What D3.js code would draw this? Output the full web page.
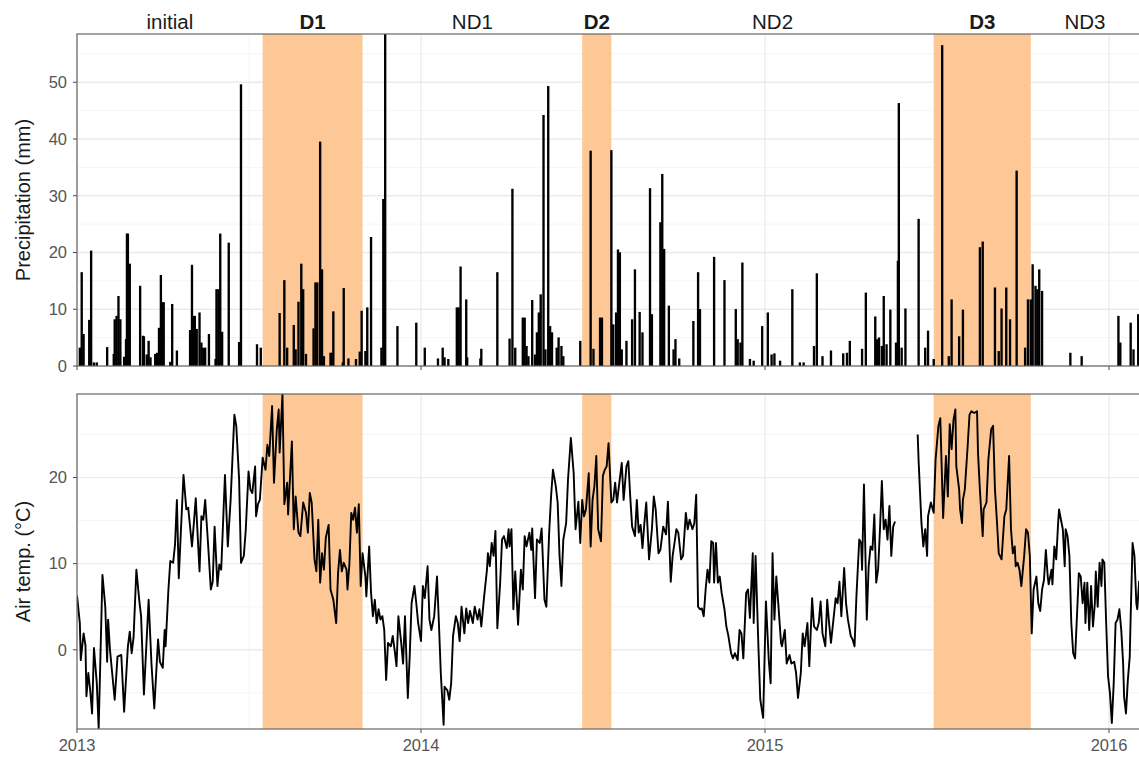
<!DOCTYPE html>
<html>
<head>
<meta charset="utf-8">
<script src="https://cdn.jsdelivr.net/npm/d3@7"></script>
<style>
  body { margin: 0; background: #fff; }
  text { font-family: "Liberation Sans", Arial, sans-serif; }
</style>
</head>
<body>
<svg id="chart" width="1139" height="760"></svg>
<script>
// daily precipitation, only the wet days: [days since 2013-01-01, mm]
var precip = [
  [3,3.1],[5,16.4],[7,5.5],[13,8],[15,20.2],[18,0.5],[21,0.5],[32,3.2],[39,2],[40,8.1],[42,8.7],[44,12.2],[46,8.1],
  [50,1.5],[52,4.6],[53,23.2],[54,23.2],[56,17.9],[67,14],[70,5.2],[71,5.1],[74,1.9],[76,4.3],[78,1.4],[83,2],
  [85,2.2],[87,6.6],[89,15.9],[91,11.1],[92,11.1],[99,0.6],[101,10.8],[106,2.6],[120,6.2],[122,17.7],[124,8.7],
  [125,8.7],[127,6.4],[130,9.3],[132,4],[134,3.1],[136,3.1],[140,5.5],[147,1.1],[148,13.4],[150,13.4],[152,23.2],
  [154,5.9],[161,21.6],[172,4.1],[174,49.5],[191,3.7],[195,3.1],[215,9.2],[220,15],[223,3.1],[230,7.1],[232,2.8],
  [235,11.2],[238,17.9],[240,13.4],[243,2],[251,6.5],[253,14.6],[255,14.6],[258,39.4],[260,16.9],[262,1.6],
  [269,2.2],[270,2.2],[272,9.5],[282,0.5],[283,13.6],[288,1.2],[296,1.1],[300,2.4],[302,9.6],[306,2.5],[308,10.2],
  [312,22.6],[323,3.1],[325,29.3],[327,60],[340,6.9],[360,7.5],[369,3.1],[383,1.2],[388,3.1],[390,1.4],[394,1.1],
  [403,10.2],[405,10.2],[407,17.4],[413,11.6],[414,1.4],[428,1.2],[429,2.9],[446,16.4],[459,4.7],[462,31.1],
  [465,3.1],[473,8.4],[475,8.4],[477,3.4],[479,1.6],[483,11.5],[486,1.9],[488,5.8],[490,9.3],[492,12.5],[495,44.1],
  [497,2.8],[500,49.2],[502,6.9],[504,5.8],[509,3.1],[511,4.9],[514,3.4],[516,1.6],[534,4.3],[545,37.8],[548,2.9],
  [555,8.4],[557,8.4],[567,37.9],[569,7.2],[572,9.3],[574,20.4],[576,19.9],[578,2.8],[583,4.3],[589,8.1],[592,16.9],
  [597,9.4],[600,5.8],[608,31.2],[610,9],[619,25.2],[621,33.7],[623,20.5],[628,10.5],[633,2.8],[635,4.6],[639,1.2],
  [654,7.8],[659,16.4],[661,9.9],[676,19.1],[687,15],[699,9.9],[701,4.6],[704,4],[706,18.1],[714,1.1],[718,0.8],
  [727,6.9],[733,9.3],[737,1.9],[740,2.1],[746,0.8],[759,13.4],[767,0.5],[771,0.5],[782,3.4],[785,16.2],[791,1.6],
  [800,2.6],[813,2.1],[817,2.2],[820,4.3],[833,2.9],[837,12.8],[847,8.6],[849,4.6],[851,4.9],[854,3.4],[856,12.2],
  [859,3.7],[863,9.8],[869,4],[871,18.4],[872,46.2],[875,3.1],[879,10],[893,25.8],[900,3.1],[903,6.1],[909,1.1],
  [918,56.4],[925,1.6],[928,11.6],[936,5.1],[940,9.8],[958,20.8],[961,21.8],[974,13.7],[978,2.5],[981,10],
  [986,13.7],[990,8.1],[997,34.3],[1006,3.1],[1009,11.6],[1012,11.6],[1014,17.8],[1017,14],[1019,13.4],[1021,16.9],
  [1024,13.1],[1054,2.2],[1066,1.6],[1105,8.7],[1107,4],[1118,7.5],[1121,2.8],[1126,9]
];

// air temperature: [days since 2013-01-01, degC], null = missing
var airTemp = [
  [0,6.3],[3,3.1],[4,-1.2],[7,1.9],[9,0.5],[10,-5.4],[12,-2.7],[14,-4.7],[16,-7.4],[18,0.2],[21,-3.9],[23,-9.1],
  [27,8.7],[30,5.0],[32,-1.4],[33,3.5],[35,0],[40,-5.8],[43,-0.8],[47,-0.6],[50,-7.2],[54,0.4],[56,2.1],[58,-0.4],
  [60,1.4],[63,9.3],[66,5.8],[68,3.9],[71,-5.2],[73,-0.8],[76,5.8],[79,-1.6],[82,-6.8],[86,1.2],[88,-1.4],[91,-2.1],
  [93,2.3],[94,0.4],[97,7.0],[99,10.3],[102,10.1],[104,12.2],[106,17.4],[108,8.3],[110,13.2],[113,20.3],[116,16.3],
  [118,16.5],[122,12.0],[124,14.7],[126,17.6],[130,9.1],[132,15.5],[134,15.1],[136,17.4],[139,12.4],[142,7.0],
  [144,7.9],[146,14.3],[149,7.4],[151,9.9],[153,9.3],[157,20.3],[160,12.0],[163,17.4],[167,27.3],[169,26.0],
  [172,19.8],[174,10.1],[177,10.9],[179,13.8],[182,20.7],[184,18.6],[186,18.2],[189,21.3],[190,15.5],[192,16.9],
  [194,17.4],[197,22.3],[200,20.9],[202,23.8],[204,22.5],[207,28.3],[209,19.4],[212,25.6],[214,27.9],[215,22.9],
  [218,29.7],[220,16.9],[223,19.4],[224,15.7],[228,24.2],[230,14.0],[232,17.8],[235,13.6],[237,13.2],[240,17.1],
  [243,15.9],[245,13.6],[247,18.2],[249,17.1],[252,10.5],[254,9.1],[256,15.1],[258,7.8],[260,11.2],[262,9.3],
  [264,13.0],[267,14.5],[269,7.0],[272,5.8],[275,3.1],[277,8.9],[279,11.6],[281,9.1],[283,10.1],[286,9.3],
  [287,7.0],[289,9.9],[291,15.9],[293,15.1],[295,16.5],[297,13.6],[299,16.9],[301,7.4],[303,11.2],[306,8.5],
  [307,6.2],[310,12.0],[312,6.6],[314,3.9],[316,5.8],[318,3.1],[320,4.7],[322,3.5],[324,3.9],[326,2.3],[328,-3.5],
  [330,0.8],[333,0.4],[335,1.6],[337,0],[339,-1.9],[341,3.9],[344,0.8],[346,-1.6],[348,3.9],[351,-5.6],[353,-0.8],
  [355,5.4],[358,7.4],[360,5.4],[362,3.1],[365,1.0],[367,7.4],[369,6.0],[372,9.7],[374,3.5],[376,2.3],[379,3.9],
  [382,8.5],[384,3.1],[386,-2.7],[389,-8.7],[390,-4.3],[393,-4.7],[395,-5.8],[397,-3.9],[399,1.6],[402,3.9],
  [404,3.1],[406,1.0],[408,5.0],[411,1.9],[413,4.8],[415,3.1],[417,4.5],[420,3.1],[422,5.0],[425,3.5],[427,4.7],
  [429,2.7],[432,6.2],[435,9.3],[436,11.2],[438,9.7],[440,12.4],[442,10.9],[444,13.8],[446,2.5],[449,7.8],
  [451,12.8],[453,13.2],[456,11.8],[458,14.0],[459,12.0],[461,14.0],[463,4.7],[465,9.1],[468,2.9],[471,9.3],
  [473,7.0],[475,13.2],[477,12.0],[480,13.6],[482,11.6],[483,14.1],[486,6.0],[488,12.8],[491,12.4],[493,14.1],
  [496,5.8],[498,5.0],[501,13.6],[503,17.8],[505,20.9],[508,19.0],[510,17.1],[512,10.9],[514,7.4],[516,12.8],
  [519,14.7],[521,19.8],[524,24.6],[527,20.5],[529,14.0],[532,17.2],[534,12.4],[536,17.4],[538,15.5],[540,16.3],
  [543,20.5],[545,12.0],[547,17.4],[549,19.0],[551,22.5],[553,14.0],[556,12.6],[558,20.2],[560,20.9],[562,21.3],
  [564,24.0],[567,17.1],[569,17.4],[571,19.4],[573,17.1],[575,19.0],[578,21.7],[580,17.4],[583,21.3],[585,21.9],
  [587,17.8],[589,14.3],[592,13.2],[594,17.4],[596,13.6],[598,14.5],[600,11.8],[602,14.7],[604,17.1],[607,10.5],
  [610,14.0],[612,17.8],[614,16.3],[617,11.2],[619,11.6],[622,14.3],[625,13.4],[627,17.2],[630,7.9],[632,10.9],
  [634,12.4],[636,14.0],[638,13.6],[641,10.5],[643,10.9],[646,15.9],[648,14.0],[650,15.1],[653,14.0],[655,14.7],
  [657,18.0],[659,5.0],[661,4.7],[663,4.8],[665,3.9],[667,7.0],[669,9.3],[671,7.8],[673,12.6],[675,12.4],
  [676,7.8],[678,12.4],[680,7.8],[682,8.5],[684,6.6],[687,4.7],[689,2.7],[691,1.7],[694,-0.4],[696,-1.0],
  [698,-0.4],[701,-1.2],[703,2.3],[705,1.9],[707,-1.0],[710,6.6],[712,7.0],[714,3.7],[717,11.2],[718,3.1],
  [720,10.9],[723,0.4],[725,-5.8],[728,-7.9],[729,-3.5],[731,5.6],[734,-1.2],[736,-3.9],[738,11.2],[740,3.5],
  [742,8.5],[744,5.5],[747,0.8],[748,0.4],[751,2.3],[753,-1.6],[756,-0.6],[758,-1.6],[761,-1.4],[763,-2.7],
  [765,-5.6],[768,-2.7],[770,1.9],[772,0.4],[775,3.1],[777,-1.9],[780,6.0],[782,2.7],[785,2.3],[787,3.1],
  [789,5.6],[791,1.9],[794,0.4],[796,5.8],[798,3.1],[800,0.8],[803,3.9],[805,6.0],[807,5.4],[809,7.9],[811,3.9],
  [814,9.5],[816,5.4],[818,3.5],[821,1.6],[823,1.2],[825,0.4],[827,6.2],[830,12.8],[832,12.4],[833,9.3],
  [835,19.2],[838,3.5],[840,9.7],[842,12.0],[844,11.6],[846,15.7],[848,7.8],[850,9.3],[852,14.0],[854,19.6],
  [856,14.0],[858,15.1],[860,12.8],[862,16.7],[864,10.9],[866,14.3],[868,14.9],[880,null],[892,25.0],[893,21.9],
  [896,14.7],[898,12.0],[900,14.0],[902,10.9],[903,15.5],[906,17.1],[909,15.9],[911,22.1],[914,26.0],[916,26.9],
  [919,15.3],[922,22.5],[924,17.8],[926,26.2],[928,23.3],[930,26.7],[932,27.9],[933,21.3],[936,18.6],[937,16.3],
  [939,14.7],[940,17.4],[942,18.6],[945,23.6],[947,27.3],[949,27.7],[952,27.5],[955,27.7],[956,22.9],[958,18.6],
  [961,13.2],[962,16.3],[965,17.1],[967,22.1],[970,25.6],[972,26.0],[974,18.6],[976,15.1],[978,11.2],[981,10.5],
  [984,15.5],[986,16.3],[989,22.5],[991,14.0],[993,11.2],[995,12.0],[996,9.7],[998,10.1],[1000,9.3],[1002,7.4],
  [1005,10.9],[1007,14.0],[1009,13.6],[1011,10.9],[1013,1.9],[1015,7.0],[1018,8.5],[1020,5.4],[1022,4.5],
  [1024,7.0],[1026,8.1],[1028,11.6],[1030,8.5],[1031,7.6],[1034,9.3],[1035,7.6],[1037,12.0],[1039,10.5],
  [1041,14.7],[1042,16.3],[1044,15.1],[1046,14.0],[1048,9.7],[1049,14.0],[1051,13.2],[1053,10.9],[1055,3.1],
  [1057,-0.4],[1059,-1.0],[1061,3.9],[1063,8.9],[1065,8.5],[1067,5.4],[1069,7.8],[1070,3.1],[1072,7.8],[1074,2.3],
  [1076,7.4],[1078,2.7],[1080,5.4],[1081,9.1],[1083,5.0],[1085,10.1],[1087,7.4],[1088,10.5],[1090,10.1],
  [1092,3.1],[1094,-3.1],[1096,-5.0],[1098,-8.5],[1100,-3.9],[1102,3.1],[1104,3.5],[1106,4.7],[1108,2.3],
  [1110,-1.6],[1111,-5.4],[1113,-7.4],[1115,-3.5],[1117,-0.8],[1118,3.9],[1120,12.4],[1122,10.9],[1124,5.4],
  [1125,4.7],[1127,8.0]
];

// experiment periods
var periodNames = ['initial', 'D1', 'ND1', 'D2', 'ND2', 'D3', 'ND3'];
var periodStart = ['2013-01-01', '2013-07-17', '2013-10-31', '2014-06-21', '2014-07-22', '2015-06-29', '2015-10-10'];
var periodEnd   = ['2013-07-17', '2013-10-31', '2014-06-21', '2014-07-22', '2015-06-29', '2015-10-10', '2016-02-03'];

var yearTicks = ['2013', '2014', '2015', '2016'];
var precipTicks = [0, 10, 20, 30, 40, 50];
var tempTicks = [0, 10, 20];

var t0 = new Date(Date.UTC(2013, 0, 1));
function dayDate(d) { return d3.utcDay.offset(t0, Math.round(d)); }
function parse(s) { return d3.utcParse('%Y-%m-%d')(s); }

var svg = d3.select('#chart');
var left = 77, right = 1145;

var x = d3.scaleUtc()
  .domain([t0, parse('2016-01-01')])
  .range([left, 1109]);

var top1 = { y0: 34, y1: 366 };
var top2 = { y0: 394, y1: 729 };

var yP = d3.scaleLinear().domain([0, 58.5]).range([top1.y1, top1.y0]);
var yT = d3.scaleLinear().domain([-9.2, 29.7]).range([top2.y1, top2.y0]);

var years = yearTicks.map(function(y) { return parse(y + '-01-01'); });
var midYears = years.slice(0, -1).map(function(d, i) {
  return new Date((d.getTime() + years[i + 1].getTime()) / 2);
});

function panel(name, box, y, majors, minors) {
  var g = svg.append('g');
  g.append('clipPath').attr('id', 'clip-' + name)
    .append('rect').attr('x', left).attr('y', box.y0)
    .attr('width', right - left).attr('height', box.y1 - box.y0);

  // grid
  g.selectAll('.minor-y').data(minors).enter().append('line')
    .attr('x1', left).attr('x2', right)
    .attr('y1', y).attr('y2', y)
    .attr('stroke', '#f2f2f2').attr('stroke-width', 0.8);
  g.selectAll('.minor-x').data(midYears).enter().append('line')
    .attr('x1', x).attr('x2', x)
    .attr('y1', box.y0).attr('y2', box.y1)
    .attr('stroke', '#f2f2f2').attr('stroke-width', 0.8);
  g.selectAll('.major-y').data(majors).enter().append('line')
    .attr('x1', left).attr('x2', right)
    .attr('y1', y).attr('y2', y)
    .attr('stroke', '#ebebeb').attr('stroke-width', 1.3);
  g.selectAll('.major-x').data(years).enter().append('line')
    .attr('x1', x).attr('x2', x)
    .attr('y1', box.y0).attr('y2', box.y1)
    .attr('stroke', '#ebebeb').attr('stroke-width', 1.3);

  // drought shading
  var drought = periodNames.map(function(n, i) { return i; })
    .filter(function(i) { return periodNames[i].charAt(0) === 'D'; });
  g.append('g').attr('clip-path', 'url(#clip-' + name + ')')
    .selectAll('rect').data(drought).enter().append('rect')
    .attr('x', function(i) { return x(parse(periodStart[i])); })
    .attr('width', function(i) { return x(parse(periodEnd[i])) - x(parse(periodStart[i])); })
    .attr('y', box.y0).attr('height', box.y1 - box.y0)
    .attr('fill', '#fdc895');

  var plot = g.append('g').attr('clip-path', 'url(#clip-' + name + ')');

  // y axis ticks + labels
  g.selectAll('.ytick').data(majors).enter().append('line')
    .attr('x1', left - 4).attr('x2', left)
    .attr('y1', y).attr('y2', y)
    .attr('stroke', '#444').attr('stroke-width', 1);
  g.selectAll('.ylab').data(majors).enter().append('text')
    .attr('x', left - 10).attr('y', y).attr('dy', '0.35em')
    .attr('text-anchor', 'end').attr('font-size', 16.5).attr('fill', '#555')
    .text(function(d) { return d; });
  // x ticks
  g.selectAll('.xtick').data(years).enter().append('line')
    .attr('x1', x).attr('x2', x)
    .attr('y1', box.y1).attr('y2', box.y1 + 4)
    .attr('stroke', '#444').attr('stroke-width', 1);

  return { g: g, plot: plot };
}

var p1 = panel('prec', top1, yP, precipTicks, [5, 15, 25, 35, 45, 55]);
var p2 = panel('temp', top2, yT, tempTicks, [-5, 5, 15, 25]);

// precipitation bars
var dayW = x(dayDate(1)) - x(dayDate(0));
p1.plot.selectAll('rect.bar').data(precip).enter().append('rect')
  .attr('class', 'bar')
  .attr('x', function(d) { return x(dayDate(d[0])) - dayW * 0.45; })
  .attr('width', dayW * 0.9)
  .attr('y', function(d) { return yP(d[1]); })
  .attr('height', function(d) { return yP(0) - yP(d[1]); })
  .attr('fill', '#000').attr('stroke', '#000').attr('stroke-width', 1.5);

// air temperature line
var line = d3.line()
  .defined(function(d) { return d[1] !== null; })
  .x(function(d) { return x(dayDate(d[0])); })
  .y(function(d) { return yT(d[1]); });
p2.plot.append('path').datum(airTemp)
  .attr('d', line)
  .attr('fill', 'none').attr('stroke', '#000')
  .attr('stroke-width', 1.9).attr('stroke-linejoin', 'round');

// panel borders
[top1, top2].forEach(function(b) {
  svg.append('rect')
    .attr('x', left).attr('y', b.y0)
    .attr('width', right - left).attr('height', b.y1 - b.y0)
    .attr('fill', 'none').attr('stroke', '#666').attr('stroke-width', 1.2);
});

// x labels under lower panel
svg.selectAll('.xlab').data(years).enter().append('text')
  .attr('x', x).attr('y', top2.y1 + 22)
  .attr('text-anchor', 'middle').attr('font-size', 16.5).attr('fill', '#555')
  .text(function(d, i) { return yearTicks[i]; });

// period labels
svg.selectAll('.period').data(periodNames).enter().append('text')
  .attr('x', function(d, i) {
    var a = x(parse(periodStart[i])), b = Math.min(x(parse(periodEnd[i])), 1139);
    return (a + b) / 2;
  })
  .attr('y', 29)
  .attr('text-anchor', 'middle').attr('font-size', 20.5)
  .attr('font-weight', function(d) { return d.charAt(0) === 'D' ? 'bold' : 'normal'; })
  .attr('fill', '#1a1a1a')
  .text(function(d) { return d; });

// axis titles
svg.append('text')
  .attr('transform', 'translate(30,' + ((top1.y0 + top1.y1) / 2) + ') rotate(-90)')
  .attr('text-anchor', 'middle').attr('font-size', 20).attr('fill', '#1a1a1a')
  .text('Precipitation (mm)');
svg.append('text')
  .attr('transform', 'translate(30,' + ((top2.y0 + top2.y1) / 2) + ') rotate(-90)')
  .attr('text-anchor', 'middle').attr('font-size', 20).attr('fill', '#1a1a1a')
  .text('Air temp. (°C)');
</script>
</body>
</html>
